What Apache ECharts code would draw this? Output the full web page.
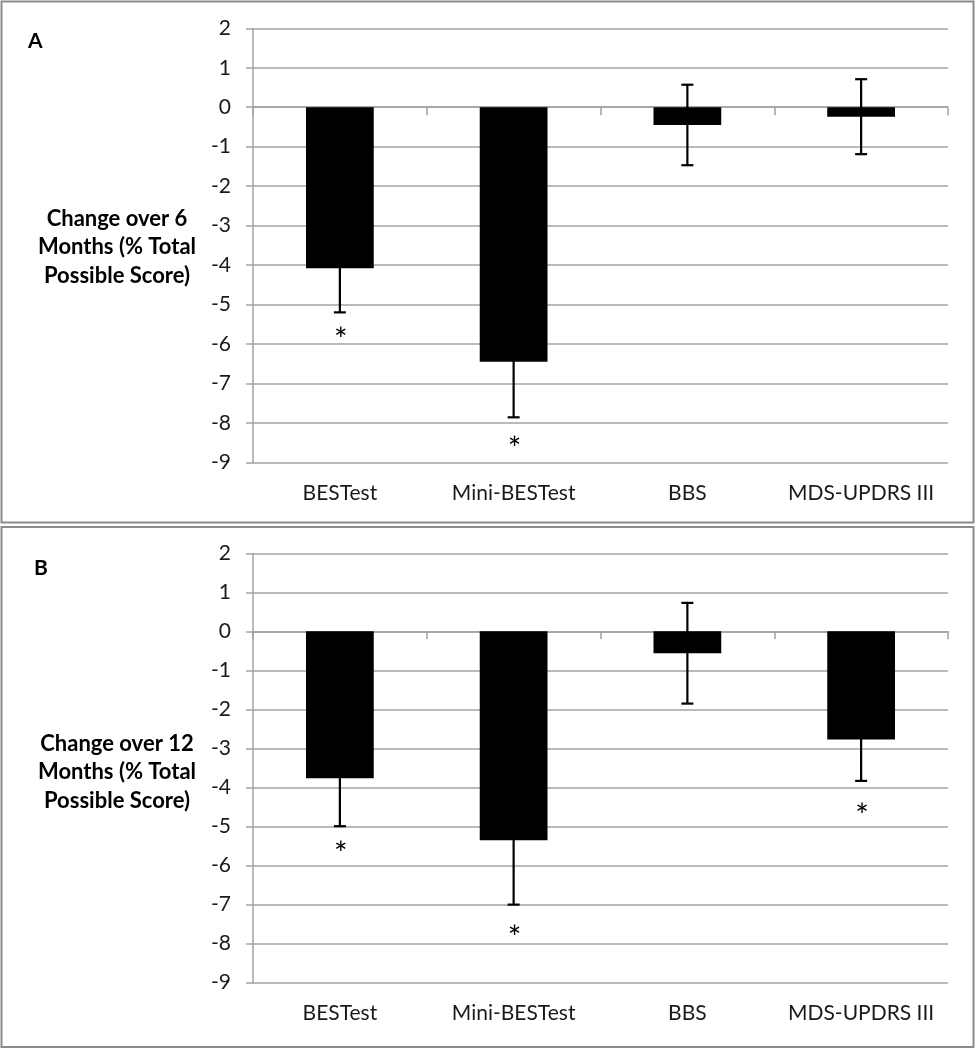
<!DOCTYPE html>
<html>
<head>
<meta charset="utf-8">
<script src="https://cdn.jsdelivr.net/npm/echarts@6/dist/echarts.min.js"></script>
<style>
html,body{margin:0;padding:0;background:#fff;}
#chart{width:976px;height:1050px;}
</style>
</head>
<body>
<div id="chart"></div>
<script>
const categories = ['BESTest', 'Mini-BESTest', 'BBS', 'MDS-UPDRS III'];
const changeA = [-4.08, -6.45, -0.45, -0.24];
const sdA = [1.12, 1.41, 1.02, 0.95];
const starA = [-5.74, -8.5, null, null];
const changeB = [-3.76, -5.35, -0.56, -2.77];
const sdB = [1.23, 1.65, 1.29, 1.06];
const starB = [-5.55, -7.69, null, -4.57];
const yMin = -9, yMax = 2, yStep = 1;
const titleA = 'Change over 6\nMonths (% Total\nPossible Score)';
const titleB = 'Change over 12\nMonths (% Total\nPossible Score)';

const FONT = 'Lato';
const TXT = '#1a1a1a';
const GRIDC = '#a3a3a3';
const STAR_SIZE = 32;

const chart = echarts.init(document.getElementById('chart'), null, {renderer: 'canvas'});

function yAxisFor(gi) {
  return {
    type: 'value', gridIndex: gi, min: yMin, max: yMax, interval: yStep,
    axisLine: {show: true, lineStyle: {color: GRIDC, width: 1.5}},
    axisTick: {show: true, length: 7, lineStyle: {color: GRIDC, width: 1.5}},
    axisLabel: {fontFamily: FONT, fontSize: 21, color: TXT, margin: 22},
    splitLine: {show: true, lineStyle: {color: GRIDC, width: 1.5}}
  };
}
function xAxesFor(gi) {
  return [
    {
      type: 'category', gridIndex: gi, data: categories, position: 'bottom',
      axisLine: {show: false, onZero: false},
      axisTick: {show: false},
      axisLabel: {fontFamily: FONT, fontSize: 21, color: TXT, margin: 20, interval: 0, hideOverlap: false}
    },
    {
      type: 'category', gridIndex: gi, data: categories, position: 'bottom',
      axisLine: {show: true, onZero: true, lineStyle: {color: GRIDC, width: 1.5}},
      axisTick: {show: true, length: 8, interval: 0, lineStyle: {color: GRIDC, width: 1.5}},
      axisLabel: {show: false}
    }
  ];
}
function errRender(params, api) {
  const x = api.value(0), v = api.value(1), e = api.value(2);
  const top = api.coord([x, v + e]);
  const bot = api.coord([x, v - e]);
  const h = 6;
  const st = {stroke: '#000', lineWidth: 2.2};
  return {type: 'group', children: [
    {type: 'line', shape: {x1: top[0], y1: top[1], x2: bot[0], y2: bot[1]}, style: st},
    {type: 'line', shape: {x1: top[0] - h, y1: top[1], x2: top[0] + h, y2: top[1]}, style: st},
    {type: 'line', shape: {x1: bot[0] - h, y1: bot[1], x2: bot[0] + h, y2: bot[1]}, style: st}
  ]};
}
function starRender(params, api) {
  const p = api.coord([api.value(0), api.value(1)]);
  return {type: 'text', x: p[0] + 1, y: p[1] + STAR_SIZE * 0.22, style: {text: '*', fontFamily: FONT, fontSize: STAR_SIZE, fill: '#000', align: 'center', verticalAlign: 'middle'}};
}
function seriesFor(gi, vals, sds, stars) {
  const xi = gi * 2, yi = gi;
  return [
    {type: 'bar', xAxisIndex: xi, yAxisIndex: yi, data: vals, barWidth: '39%', itemStyle: {color: '#000'}, silent: true},
    {type: 'custom', xAxisIndex: xi, yAxisIndex: yi, renderItem: errRender,
     data: vals.map((v, i) => [i, v, sds[i]]), encode: {x: 0, y: 1}, silent: true, z: 5},
    {type: 'custom', xAxisIndex: xi, yAxisIndex: yi, renderItem: starRender,
     data: stars.map((s, i) => [i, s]).filter(d => d[1] !== null), encode: {x: 0, y: 1}, silent: true, z: 5}
  ];
}

const option = {
  animation: false,
  backgroundColor: '#fff',
  grid: [
    {left: 253, right: 28, top: 28.3, height: 434},
    {left: 253, right: 28, top: 553.3, height: 429.4}
  ],
  xAxis: [...xAxesFor(0), ...xAxesFor(1)],
  yAxis: [yAxisFor(0), yAxisFor(1)],
  series: [...seriesFor(0, changeA, sdA, starA), ...seriesFor(1, changeB, sdB, starB)],
  graphic: [
    {type: 'rect', shape: {x: 1.5, y: 1.5, width: 972, height: 521}, style: {fill: 'none', stroke: '#8c8c8c', lineWidth: 2}, silent: true},
    {type: 'rect', shape: {x: 1.5, y: 527, width: 972, height: 520}, style: {fill: 'none', stroke: '#8c8c8c', lineWidth: 2}, silent: true},
    {type: 'text', x: 28, y: 41, style: {text: 'A', fontFamily: FONT, fontWeight: 'bold', fontSize: 21, fill: '#000', verticalAlign: 'middle'}},
    {type: 'text', x: 34, y: 568, style: {text: 'B', fontFamily: FONT, fontWeight: 'bold', fontSize: 21, fill: '#000', verticalAlign: 'middle'}},
    {type: 'text', x: 117, y: 247, style: {text: titleA, fontFamily: FONT, fontWeight: 'bold', fontSize: 22, lineHeight: 28.5, fill: '#000', align: 'center', verticalAlign: 'middle'}},
    {type: 'text', x: 117, y: 772, style: {text: titleB, fontFamily: FONT, fontWeight: 'bold', fontSize: 22, lineHeight: 28.5, fill: '#000', align: 'center', verticalAlign: 'middle'}}
  ]
};
chart.setOption(option);
</script>
</body>
</html>
